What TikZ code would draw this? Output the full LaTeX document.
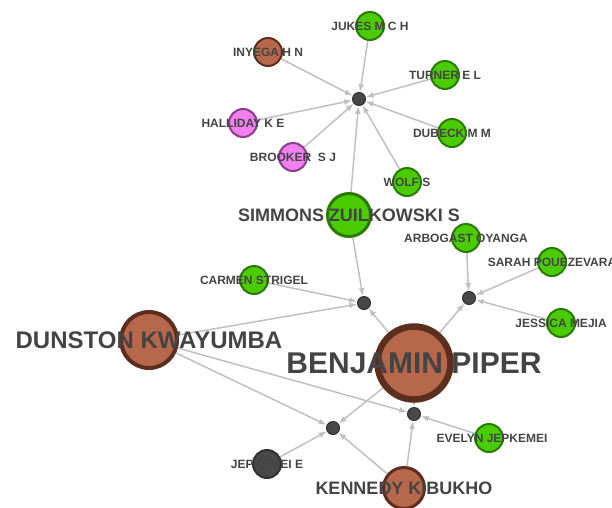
\documentclass[tikz,border=0pt]{standalone}
\usepackage{fontspec}
\setmainfont{Liberation Sans}
\usetikzlibrary{arrows.meta, backgrounds}
\definecolor{greenfill}{RGB}{74,204,0}
\definecolor{greenline}{RGB}{40,122,0}
\definecolor{brownfill}{RGB}{184,104,74}
\definecolor{brownline}{RGB}{92,46,30}
\definecolor{pinkfill}{RGB}{240,128,240}
\definecolor{pinkline}{RGB}{140,60,140}
\definecolor{hubfill}{RGB}{72,72,72}
\definecolor{hubline}{RGB}{48,48,48}
\definecolor{edgegray}{RGB}{192,192,192}
\definecolor{textgray}{RGB}{68,68,68}

\begin{document}
\begin{tikzpicture}[
        x=1pt, y=-1pt,
        person/.style={
          circle, inner sep=0pt, line width=2pt, minimum size=28pt
        },
        green/.style={person, fill=greenfill, draw=greenline},
        brown/.style={person, fill=brownfill, draw=brownline},
        pink/.style={person, fill=pinkfill, draw=pinkline},
        hub/.style={
          circle, inner sep=0pt, minimum size=13pt, fill=hubfill, draw=hubline, line width=1pt
        },
        small/.style={font=\bfseries\fontsize{12}{12}\selectfont, text=textgray, inner sep=0pt},
        medium/.style={font=\bfseries\fontsize{18}{18}\selectfont, text=textgray, inner sep=0pt},
        large/.style={font=\bfseries\fontsize{24}{24}\selectfont, text=textgray, inner sep=0pt},
        huge/.style={font=\bfseries\fontsize{30}{30}\selectfont, text=textgray, inner sep=0pt},
        link/.style={draw=edgegray, line width=1.5pt, ->},
        >={Latex[length=8pt, width=6pt]},
      ]
        \useasboundingbox (0,0) rectangle (612,507);

        % hubs
        \node [hub] (hub_top) at (359,99) {};
        \node [hub] (hub_mid) at (364,303) {};
        \node [hub] (hub_right) at (469,298) {};
        \node [hub] (hub_low) at (414,414) {};
        \node [hub] (hub_left) at (333,428) {};

        % top group
        \node [green, label={[small]center:JUKES M C H}] (jukes) at (370,26) {};
        \node [brown, label={[small]center:INYEGA H N}] (inyega) at (268,52) {};
        \node [green, label={[small]center:TURNER E L}] (turner) at (445,75) {};
        \node [pink, label={[small]center:HALLIDAY K E}] (halliday) at (243,123) {};
        \node [green, label={[small]center:DUBECK M M}] (dubeck) at (452,133) {};
        \node [pink, label={[small]center:BROOKER\ \ S J}] (brooker) at (293,157) {};
        \node [green, label={[small]center:WOLF S}] (wolf) at (407,182) {};
        \node [green, minimum size=43pt, line width=3pt, label={[medium]center:SIMMONS ZUILKOWSKI S}] (simmons) at (349,215) {};

        % right group
        \node [green, label={[small]center:ARBOGAST OYANGA}] (arbogast) at (466,238) {};
        \node [green, label={[small]center:SARAH POUEZEVARA}] (sarah) at (552,262) {};
        \node [green, label={[small]center:JESSICA MEJIA}] (jessica) at (561,323) {};

        % middle and bottom
        \node [green, label={[small]center:CARMEN STRIGEL}] (carmen) at (254,280) {};
        \node [brown, minimum size=56pt, line width=4pt, label={[large]center:DUNSTON KWAYUMBA}] (dunston) at (149,340) {};
        \node [brown, minimum size=73pt, line width=6.5pt, label={[huge]center:BENJAMIN PIPER}] (benjamin) at (414,363) {};
        \node [green, label={[small, xshift=3pt]center:EVELYN JEPKEMEI}] (evelyn) at (489,438) {};
        \node [person, fill=hubfill, draw=hubline, label={[small]center:JEPKEMEI E}] (jepkemei) at (267,464) {};
        \node [brown, minimum size=41pt, line width=3pt, label={[medium]center:KENNEDY KIBUKHO}] (kennedy) at (404,488) {};

        % links
        \begin{scope}[on background layer]
          \draw [link] (jukes) -- (hub_top);
          \draw [link] (inyega) -- (hub_top);
          \draw [link] (turner) -- (hub_top);
          \draw [link] (halliday) -- (hub_top);
          \draw [link] (dubeck) -- (hub_top);
          \draw [link] (brooker) -- (hub_top);
          \draw [link] (wolf) -- (hub_top);
          \draw [link] (simmons) -- (hub_top);

          \draw [link] (simmons) -- (hub_mid);
          \draw [link] (carmen) -- (hub_mid);
          \draw [link] (dunston) -- (hub_mid);
          \draw [link] (benjamin) -- (hub_mid);

          \draw [link] (arbogast) -- (hub_right);
          \draw [link] (sarah) -- (hub_right);
          \draw [link] (jessica) -- (hub_right);
          \draw [link] (benjamin) -- (hub_right);

          \draw [link] (dunston) -- (hub_low);
          \draw [link] (benjamin) -- (hub_low);
          \draw [link] (evelyn) -- (hub_low);
          \draw [link] (kennedy) -- (hub_low);

          \draw [link] (dunston) -- (hub_left);
          \draw [link] (benjamin) -- (hub_left);
          \draw [link] (jepkemei) -- (hub_left);
          \draw [link] (kennedy) -- (hub_left);
        \end{scope}

      \end{tikzpicture}
\end{document}
